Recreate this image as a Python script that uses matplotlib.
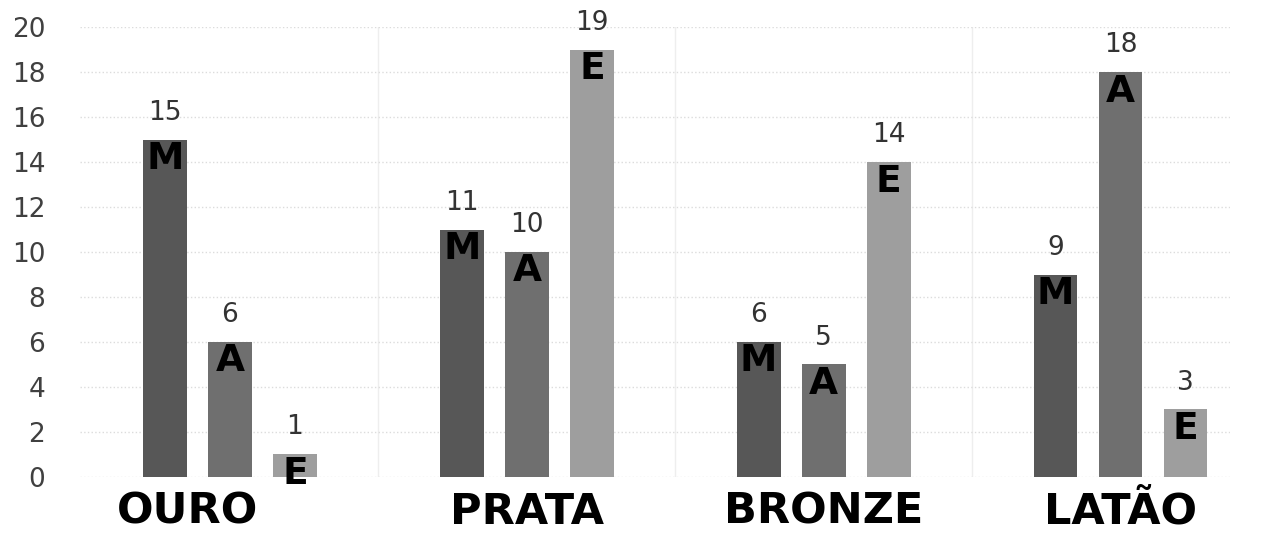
import numpy as np
import matplotlib.pyplot as plt
import matplotlib.transforms as mtransforms

grupos = ["OURO", "PRATA", "BRONZE", "LATÃO"]
letras = ["M", "A", "E"]
valores_m = [15, 11, 6, 9]
valores_a = [6, 10, 5, 18]
valores_e = [1, 19, 14, 3]
cores = ["#575757", "#6f6f6f", "#9e9e9e"]

fig = plt.figure(figsize=(12.71, 5.34), dpi=100)
ax = fig.add_axes([0.063, 0.107, 0.905, 0.842])

x = np.arange(len(grupos))
larg = 0.148
passo = 0.219
series = [valores_m, valores_a, valores_e]
for k, vals in enumerate(series):
    pos = x + (k - 1) * passo
    ax.bar(pos, vals, larg, color=cores[k], zorder=2)
    for xi, v in zip(pos, vals):
        ax.annotate(str(v), (xi, v), xytext=(0, 10), textcoords="offset points",
                    ha="center", va="bottom", fontsize=19, color="#333333")
        ax.annotate(letras[k], (xi, v), xytext=(0, -1), textcoords="offset points",
                    ha="center", va="top", fontsize=27, fontweight="heavy",
                    color="black", zorder=3)

ax.set_ylim(0, 20)
ax.set_xlim(-0.505, 3.37)
ax.set_yticks(range(0, 21, 2))
ax.set_xticks(x)
ax.set_xticklabels(grupos, fontsize=31, fontweight="heavy", color="black")
ax.set_xticks(x[:-1] + 0.5, minor=True)
ax.tick_params(axis="y", length=0, pad=25, labelsize=19, labelcolor="#404040")
ax.tick_params(axis="x", which="both", length=0, pad=10)
ax.grid(axis="y", color="#dcdcdc", ls=":", lw=1, zorder=0)
ax.grid(axis="x", which="minor", color="#eeeeee", lw=1, zorder=0)
for s in ax.spines.values():
    s.set_visible(False)

# OURO fica deslocado para a esquerda no original
desl = mtransforms.ScaledTranslation(-0.42, 0, fig.dpi_scale_trans)
lab = ax.get_xticklabels()[0]
lab.set_transform(lab.get_transform() + desl)

plt.savefig("out.png", dpi=100)
plt.close()
